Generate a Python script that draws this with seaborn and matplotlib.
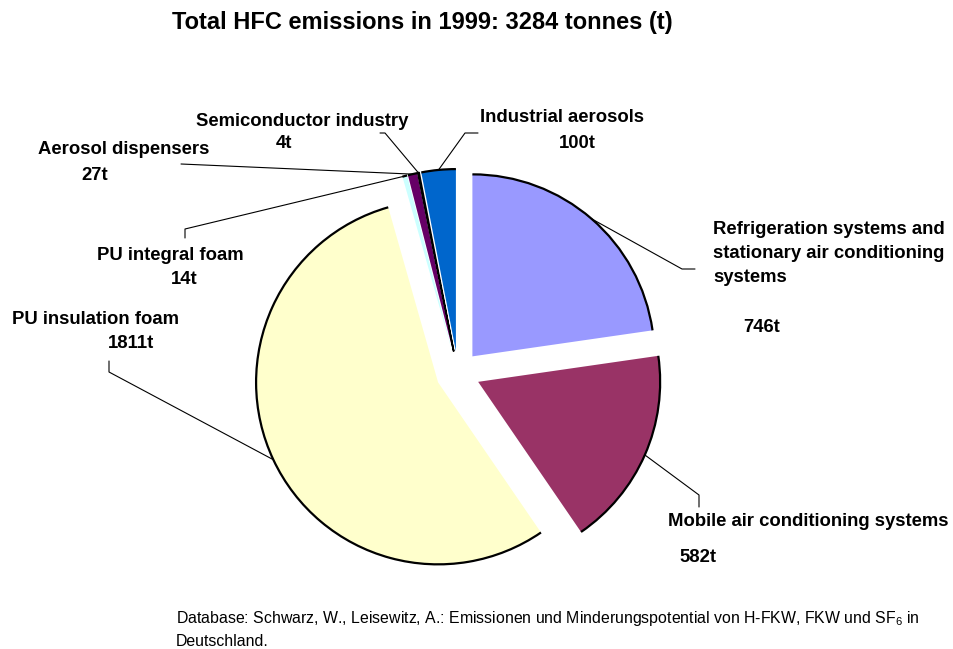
import numpy as np
import matplotlib
matplotlib.use("Agg")
import matplotlib.pyplot as plt
import matplotlib.patches as mpatches
import seaborn as sns

# ---- data ----
categories = ["Refrigeration systems and\nstationary air conditioning\nsystems",
              "Mobile air conditioning systems",
              "PU insulation foam",
              "PU integral foam",
              "Aerosol dispensers",
              "Semiconductor industry",
              "Industrial aerosols"]
values = [746, 582, 1811, 14, 27, 4, 100]
value_labels = ["746t", "582t", "1811t", "14t", "27t", "4t", "100t"]
colors = ["#9999FF", "#993366", "#FFFFCC", "#CCFFFF", "#660066", "#FF8080", "#0066CC"]
title = "Total HFC emissions in 1999: 3284 tonnes (t)"

sns.set_theme(style="white")
plt.rcParams['font.family'] = ['Liberation Sans', 'DejaVu Sans']
plt.rcParams['mathtext.fontset'] = 'custom'
plt.rcParams['mathtext.rm'] = 'Liberation Sans'

W, H = 954, 649
fig = plt.figure(figsize=(W / 100, H / 100), dpi=100)
ax = fig.add_axes([0, 0, 1, 1])

def py(y):  # pixel row -> data y
    return H - y

cx, cy, R, EXP = 458, py(373), 182, 22
wedges, _ = ax.pie(values, colors=colors, startangle=90, counterclock=False,
                   center=(cx, cy), radius=R, explode=[EXP] * len(values),
                   wedgeprops=dict(linewidth=0))
wedges[5].set_edgecolor("black")
wedges[5].set_linewidth(1.2)
for w in wedges:
    arc = mpatches.Arc(w.center, 2 * w.r, 2 * w.r, theta1=w.theta1, theta2=w.theta2,
                       color="black", lw=1.6, zorder=3)
    ax.add_patch(arc)

ax.set_xlim(0, W)
ax.set_ylim(0, H)
ax.set_aspect("equal")
ax.axis("off")

fs = 13.3
tk = dict(fontsize=fs, fontweight="bold", color="black")

def anchor(i):
    w = wedges[i]
    tm = np.deg2rad(0.5 * (w.theta1 + w.theta2))
    return (w.center[0] + w.r * np.cos(tm), w.center[1] + w.r * np.sin(tm))

# Refrigeration
ax.text(713, py(229), "Refrigeration systems and", ha="left", va="center", **tk)
ax.text(713, py(253), "stationary air conditioning", ha="left", va="center", **tk)
ax.text(713, py(277), "systems", ha="left", va="center", **tk)
ax.text(762, py(328), value_labels[0], ha="center", va="center", **tk)
# Mobile
ax.text(668, py(522), "Mobile air conditioning systems", ha="left", va="center", **tk)
ax.text(698, py(558), value_labels[1], ha="center", va="center", **tk)
# PU insulation
ax.text(96, py(319), "PU insulation foam", ha="center", va="center", **tk)
ax.text(131, py(344), value_labels[2], ha="center", va="center", **tk)
# PU integral
ax.text(170, py(256), "PU integral foam", ha="center", va="center", **tk)
ax.text(184, py(280), value_labels[3], ha="center", va="center", **tk)
# Aerosol dispensers
ax.text(124, py(149), "Aerosol dispensers", ha="center", va="center", **tk)
ax.text(95, py(176), value_labels[4], ha="center", va="center", **tk)
# Semiconductor
ax.text(302, py(121), "Semiconductor industry", ha="center", va="center", **tk)
ax.text(284, py(144), value_labels[5], ha="center", va="center", **tk)
# Industrial aerosols
ax.text(562, py(117), "Industrial aerosols", ha="center", va="center", **tk)
ax.text(577, py(144), value_labels[6], ha="center", va="center", **tk)

leader_starts = {
    0: [(695, 269), (682, 269)],
    1: [(699, 507), (699, 495)],
    2: [(109, 361), (109, 372)],
    3: [(185, 238), (185, 229)],
    4: [(181, 164)],
    5: [(380, 133), (385, 133)],
    6: [(478, 133), (465, 133)],
}
for i, pts in leader_starts.items():
    xs = [p[0] for p in pts]
    ys = [py(p[1]) for p in pts]
    a = anchor(i)
    xs.append(a[0]); ys.append(a[1])
    ax.plot(xs, ys, color="black", lw=0.8, zorder=4)

fig.text(422 / W, 1 - 22 / H, title, ha="center", va="center",
         fontsize=17, fontweight="bold", color="black")
fig.text(176 / W, 1 - 619 / H,
         r"Database: Schwarz, W., Leisewitz, A.: Emissionen und Minderungspotential von H-FKW, FKW und SF$_\mathregular{6}$ in",
         ha="left", va="center", fontsize=11.4, color="black")
fig.text(176 / W, 1 - 641 / H, "Deutschland.", ha="left", va="center", fontsize=11.4, color="black")

fig.savefig("out.png", dpi=100, facecolor="white")
